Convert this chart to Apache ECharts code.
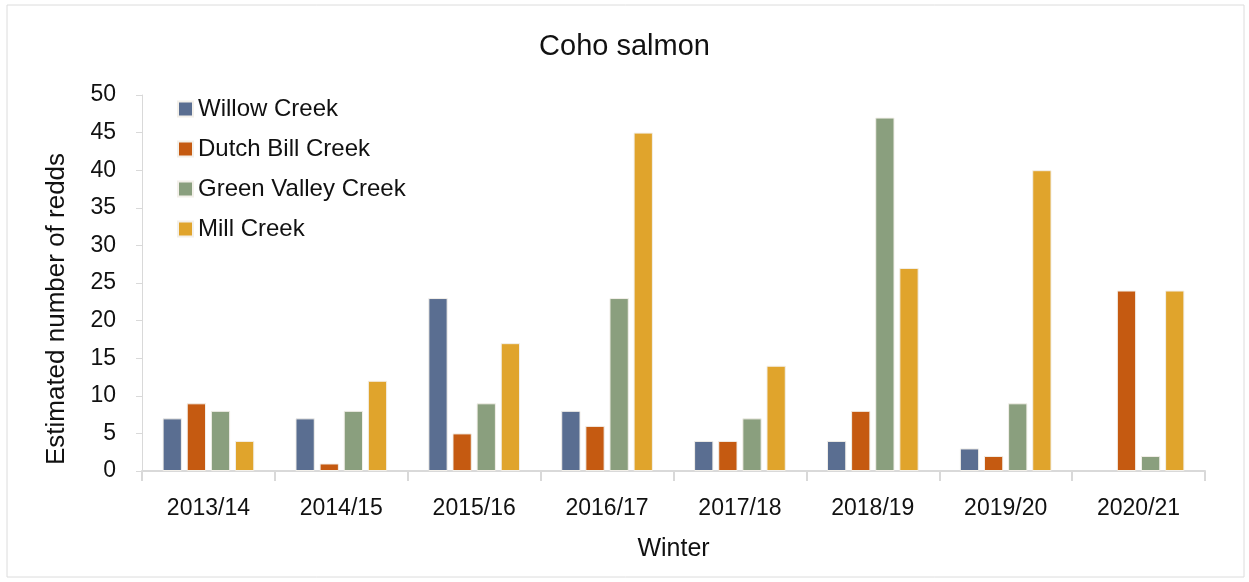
<!DOCTYPE html>
<html>
<head>
<meta charset="utf-8">
<script src="https://cdn.jsdelivr.net/npm/echarts@6/dist/echarts.min.js"></script>
<style>
  html, body { margin: 0; padding: 0; background: #fff; }
  #main { width: 1249px; height: 582px; }
</style>
</head>
<body>
<div id="main"></div>
<script>
// data
const winters = ['2013/14', '2014/15', '2015/16', '2016/17', '2017/18', '2018/19', '2019/20', '2020/21']
const willowCreek = [7, 7, 23, 8, 4, 4, 3, null]
const dutchBillCreek = [9, 1, 5, 6, 4, 8, 2, 24]
const greenValleyCreek = [8, 8, 9, 23, 7, 47, 9, 2]
const millCreek = [4, 12, 17, 45, 14, 27, 40, 24]
const yTicks = [0, 5, 10, 15, 20, 25, 30, 35, 40, 45, 50]

const colors = ['#5a6e91', '#c55a11', '#8a9f7e', '#e0a42c']
const font = 'Liberation Sans'

function bar(name, data, color) {
  return {
    name: name,
    type: 'bar',
    data: data,
    barGap: '25%',
    barCategoryGap: '31%',
    itemStyle: { color: color, borderColor: '#f3f0ea', borderWidth: 1 }
  }
}

const chart = echarts.init(document.getElementById('main'))
chart.setOption({
  animation: false,
  textStyle: { fontFamily: font },
  title: {
    text: 'Coho salmon',
    left: 'center',
    top: 27,
    textStyle: { fontSize: 29, fontWeight: 'normal', color: '#111', fontFamily: font }
  },
  graphic: [{
    type: 'rect',
    shape: { x: 7, y: 5, width: 1237, height: 572 },
    style: { fill: 'none', stroke: '#dcdcdc', lineWidth: 1 },
    silent: true
  }, {
    // y axis title, sits a bit below the plot's middle as in the reference
    type: 'text',
    x: 57,
    y: 309,
    rotation: Math.PI / 2,
    style: {
      text: 'Estimated number of redds',
      fontSize: 26,
      fontFamily: font,
      fill: '#111',
      align: 'center',
      verticalAlign: 'middle'
    },
    silent: true
  }],
  legend: {
    orient: 'vertical',
    left: 172,
    top: 92,
    itemWidth: 15,
    itemHeight: 15,
    itemGap: 16,
    icon: 'rect',
    textStyle: { fontSize: 24, color: '#111', fontFamily: font }
  },
  grid: { left: 142, right: 44, top: 95, bottom: 111 },
  xAxis: {
    type: 'category',
    data: winters,
    name: 'Winter',
    nameLocation: 'middle',
    nameGap: 66,
    nameTextStyle: { fontSize: 25, color: '#111' },
    axisLine: { lineStyle: { color: '#d9d9d9', width: 2 } },
    axisTick: { show: true, length: 10, lineStyle: { color: '#d9d9d9', width: 2 } },
    axisLabel: { fontSize: 23, color: '#111', margin: 26 }
  },
  yAxis: {
    type: 'value',
    min: yTicks[0],
    max: yTicks[yTicks.length - 1],
    interval: 5,
    axisLine: { show: true, lineStyle: { color: '#d9d9d9', width: 1 } },
    axisTick: { show: true, length: 6, lineStyle: { color: '#d9d9d9' } },
    axisLabel: { fontSize: 23, color: '#111', margin: 26 },
    splitLine: { show: false }
  },
  series: [
    bar('Willow Creek', willowCreek, colors[0]),
    bar('Dutch Bill Creek', dutchBillCreek, colors[1]),
    bar('Green Valley Creek', greenValleyCreek, colors[2]),
    bar('Mill Creek', millCreek, colors[3])
  ]
})
</script>
</body>
</html>
